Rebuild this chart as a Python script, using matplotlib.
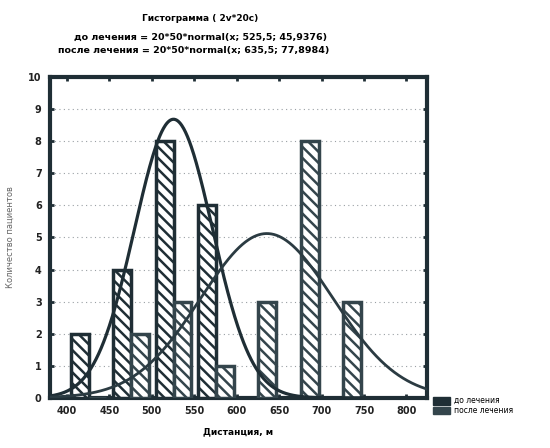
import numpy as np
import matplotlib
matplotlib.use("Agg")
import matplotlib.pyplot as plt
from matplotlib.patches import Patch

# Data
bin_left = [400, 450, 500, 550, 600, 650, 700]
before_counts = [2, 4, 8, 6, 0, 0, 0]
after_counts = [0, 2, 3, 1, 3, 8, 3]
before_mean, before_sd = 525.5, 45.9376
after_mean, after_sd = 635.5, 77.8984
n_obs, bin_w = 20, 50
x_ticks = [400, 450, 500, 550, 600, 650, 700, 750, 800]
y_ticks = list(range(0, 11))

title = "Гистограмма ( 2v*20c)"
sub1 = "до лечения = 20*50*normal(x; 525,5; 45,9376)"
sub2 = "после лечения = 20*50*normal(x; 635,5; 77,8984)"
labels = ["до лечения", "после лечения"]

plt.rcParams['font.family'] = ['DejaVu Sans']
plt.rcParams['hatch.linewidth'] = 1.8

dark = "#1f2e35"
fig = plt.figure(figsize=(5.5, 4.48), dpi=100)
ax = fig.add_axes([0.091, 0.112, 0.685, 0.716])

bl = np.array(bin_left, dtype=float)
w = 21
ax.bar(bl + 15, before_counts, width=w, facecolor="white", edgecolor=dark,
       hatch="\\\\\\", linewidth=2.5, zorder=3)
ax.bar(bl + 36, after_counts, width=w, facecolor="white", edgecolor="#34454c",
       hatch="\\\\\\", linewidth=2.5, zorder=3)

xs = np.linspace(380, 825, 600)
def npdf(x, m, s):
    return n_obs * bin_w * np.exp(-0.5 * ((x - m) / s) ** 2) / (s * np.sqrt(2 * np.pi))
ax.plot(xs, npdf(xs, before_mean, before_sd), color=dark, lw=2.3, zorder=4)
ax.plot(xs, npdf(xs, after_mean, after_sd), color="#2b3b42", lw=2.0, zorder=4)

ax.set_xlim(380, 824)
ax.set_ylim(0, 10)
ax.set_xticks(x_ticks)
ax.set_yticks(y_ticks)
ax.tick_params(axis='both', labelsize=7, length=3, width=2, color=dark,
               top=True, right=True, direction='in', pad=6)
for lab in ax.get_xticklabels() + ax.get_yticklabels():
    lab.set_fontweight('bold')
    lab.set_color("#222222")
ax.yaxis.grid(True, linestyle=(0, (1, 3)), color="#9aa0a4", lw=0.8, zorder=0)
for sp in ax.spines.values():
    sp.set_linewidth(3)
    sp.set_color(dark)

ax.set_xlabel("Дистанция, м", fontsize=6.5, fontweight='bold', labelpad=8)
ax.set_ylabel("Количество пациентов", fontsize=6, color="#666666", labelpad=10)

fig.text(0.364, 0.958, title, ha='center', va='center', fontsize=6.5, fontweight='bold')
fig.text(0.364, 0.917, sub1, ha='center', va='center', fontsize=6.8, fontweight='bold')
fig.text(0.352, 0.888, sub2, ha='center', va='center', fontsize=6.8, fontweight='bold')

handles = [Patch(facecolor=dark, edgecolor=dark, hatch="\\\\"),
           Patch(facecolor="#34454c", edgecolor="#34454c", hatch="\\\\")]
fig.legend(handles, labels, loc='lower left', bbox_to_anchor=(0.78, 0.065),
           frameon=False, fontsize=5.5, handlelength=2.2, handleheight=1.2,
           labelspacing=0.1, handletextpad=0.6, borderpad=0)

fig.savefig("out.png", dpi=100)
